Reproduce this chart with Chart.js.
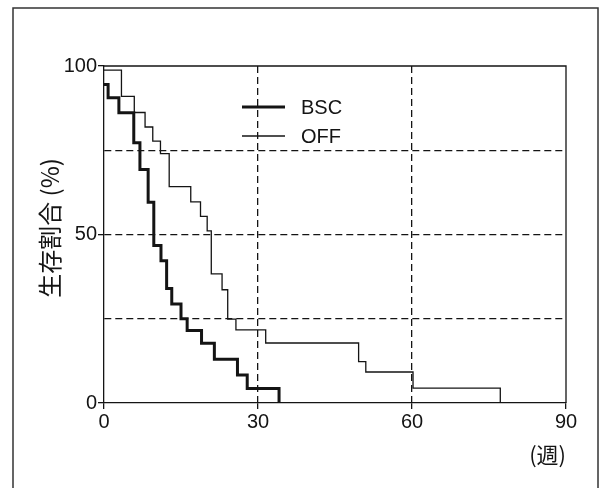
<!DOCTYPE html>
<html>
<head>
<meta charset="utf-8">
<script src="https://cdn.jsdelivr.net/npm/chart.js@4/dist/chart.umd.min.js"></script>
<style>
  html, body { margin: 0; padding: 0; background: #fff; }
  #wrap { width: 602px; height: 488px; }
</style>
</head>
<body>
<div id="wrap"><canvas id="c" width="602" height="488"></canvas></div>
<script>
// ---- data ----
const seriesNames = ['BSC', 'OFF'];
const bscWeeks = [0, 0.8, 2.9, 5.8, 7.0, 8.6, 9.7, 11.1, 12.2, 13.2, 15.0, 16.2, 19.0, 21.5, 26.0, 27.9, 34.1];
const bscSurv  = [94.5, 90.6, 86.1, 77.2, 69.3, 59.6, 46.7, 42.2, 34.0, 29.4, 25.0, 21.5, 17.7, 13.0, 8.3, 4.3, 0];
const offWeeks = [0, 3.4, 5.9, 8.0, 9.5, 11.0, 12.7, 16.9, 18.8, 20.1, 20.9, 23.0, 24.1, 25.7, 31.5, 49.6, 51.0, 60.2, 77.2];
const offSurv  = [98.8, 91.0, 86.2, 81.9, 77.7, 74.0, 64.2, 59.7, 55.4, 51.1, 38.3, 33.6, 24.9, 21.7, 17.8, 12.3, 9.2, 4.4, 0];
const xTickValues = [0, 30, 60, 90];
const yTickValues = [0, 50, 100];
const yTitle = '生存割合 (%)';
const xTitle = '(週)';

const INK = '#141414';
const numFont = { family: '"Liberation Sans", Arial, sans-serif', size: 20 };

function pts(xs, ys) { return xs.map((x, i) => ({ x: x, y: ys[i] })); }

const framePlugin = {
  id: 'frameAndLegend',
  beforeDraw(chart) {
    const ctx = chart.ctx;
    ctx.save();
    ctx.fillStyle = '#fff';
    ctx.fillRect(0, 0, chart.width, chart.height);
    ctx.strokeStyle = '#333';
    ctx.lineWidth = 1.5;
    ctx.strokeRect(13, 8, 585, 490);
    ctx.restore();
  },
  afterDraw(chart) {
    const ctx = chart.ctx;
    const a = chart.chartArea;
    ctx.save();
    // plot box (top and right sides)
    ctx.strokeStyle = INK;
    ctx.lineWidth = 1.3;
    ctx.beginPath();
    ctx.moveTo(a.left, a.top);
    ctx.lineTo(a.right, a.top);
    ctx.lineTo(a.right, a.bottom);
    ctx.stroke();
    // legend
    const items = chart.data.datasets;
    const ys = [107, 136];
    items.forEach((ds, i) => {
      ctx.strokeStyle = ds.borderColor;
      ctx.lineWidth = ds.borderWidth;
      ctx.beginPath();
      ctx.moveTo(242, ys[i]);
      ctx.lineTo(285, ys[i]);
      ctx.stroke();
      ctx.fillStyle = INK;
      ctx.font = '20px "Liberation Sans", Arial, sans-serif';
      ctx.textAlign = 'left';
      ctx.textBaseline = 'middle';
      ctx.fillText(ds.label, 301, ys[i] + 1);
    });
    // y-axis title
    ctx.translate(50, 228);
    ctx.rotate(-Math.PI / 2);
    ctx.font = '24px "Noto Sans CJK JP", sans-serif';
    ctx.textAlign = 'center';
    ctx.textBaseline = 'middle';
    ctx.fillStyle = INK;
    ctx.fillText(yTitle, 0, 0);
    ctx.restore();
  }
};

new Chart(document.getElementById('c'), {
  type: 'line',
  data: {
    datasets: [
      { label: seriesNames[0], data: pts(bscWeeks, bscSurv), stepped: 'before',
        borderColor: INK, borderWidth: 3, pointRadius: 0, fill: false },
      { label: seriesNames[1], data: pts(offWeeks, offSurv), stepped: 'before',
        borderColor: INK, borderWidth: 1.3, pointRadius: 0, fill: false }
    ]
  },
  options: {
    responsive: false,
    animation: false,
    events: [],
    layout: { padding: { left: 0, top: 66, right: 36, bottom: 0 } },
    plugins: { legend: { display: false }, tooltip: { enabled: false } },
    scales: {
      x: {
        type: 'linear', min: 0, max: 90,
        afterBuildTicks(s) { s.ticks = xTickValues.map(v => ({ value: v })); },
        afterFit(s) { s.height = 85; },
        ticks: { color: INK, font: numFont, padding: 1, maxRotation: 0, autoSkip: false },
        grid: {
          color: c => (c.tick && (c.tick.value === 0 || c.tick.value === 90)) ? 'rgba(0,0,0,0)' : INK,
          lineWidth: 1.3, tickLength: 6, tickColor: INK, tickWidth: 1.3
        },
        border: { display: true, color: INK, width: 1.3, dash: [7, 4] },
        title: { display: true, text: xTitle, align: 'end', color: INK,
                 font: { family: '"Noto Sans CJK JP", sans-serif', size: 22 }, padding: { top: 0, bottom: 20 } }
      },
      y: {
        type: 'linear', min: 0, max: 100,
        afterBuildTicks(s) { s.ticks = [0, 25, 50, 75, 100].map(v => ({ value: v })); },
        afterFit(s) { s.width = 104; },
        ticks: { color: INK, font: numFont, padding: 1,
                 callback: v => (yTickValues.includes(v) ? String(v) : '') },
        grid: {
          color: c => (c.tick && (c.tick.value === 0 || c.tick.value === 100)) ? 'rgba(0,0,0,0)' : INK,
          tickColor: c => (c.tick && yTickValues.includes(c.tick.value)) ? INK : 'rgba(0,0,0,0)',
          lineWidth: 1.3, tickLength: 6, tickWidth: 1.3
        },
        border: { display: true, color: INK, width: 1.3, dash: [7, 4] }
      }
    }
  },
  plugins: [framePlugin]
});
</script>
</body>
</html>
